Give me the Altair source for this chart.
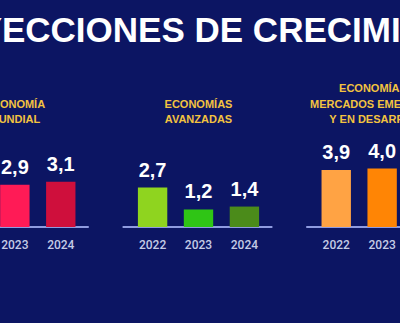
import altair as alt
import pandas as pd

title_text = "PROYECCIONES DE CRECIMIENTO"
group_keys = ["MUNDIAL", "AVANZADAS", "EMERGENTES"]
group_titles = [
    "ECONOMÍA\nMUNDIAL",
    "ECONOMÍAS\nAVANZADAS",
    "ECONOMÍAS DE\nMERCADOS EMERGENTES\nY EN DESARROLLO",
]
years = ["2022", "2023", "2024"]

bar_groups = ["MUNDIAL", "MUNDIAL", "AVANZADAS", "AVANZADAS", "AVANZADAS", "EMERGENTES", "EMERGENTES"]
bar_years = ["2023", "2024", "2022", "2023", "2024", "2022", "2023"]
bar_values = [2.9, 3.1, 2.7, 1.2, 1.4, 3.9, 4.0]
bar_labels = ["2,9", "3,1", "2,7", "1,2", "1,4", "3,9", "4,0"]
bar_colors = ["#ff1b56", "#cf0f3c", "#8fd41f", "#2fc515", "#4b8b1a", "#ffa344", "#ff8505"]

# slot layout: three years per group, one empty slot between groups
slots = []
for i, g in enumerate(group_keys):
    if i:
        slots.append(f"gap{i}")
    slots += [f"{g}-{y}" for y in years]

bars = pd.DataFrame({"group": bar_groups, "year": bar_years,
                     "value": bar_values, "label": bar_labels})
bars["slot"] = bars["group"] + "-" + bars["year"]

groups_df = pd.DataFrame({
    "group": group_keys,
    "mid": [f"{g}-{years[1]}" for g in group_keys],
    "first": [f"{g}-{years[0]}" for g in group_keys],
    "last": [f"{g}-{years[-1]}" for g in group_keys],
})

# one row per title line, counted from the bottom line up
line_rows = []
for g, t in zip(group_keys, group_titles):
    parts = t.split("\n")
    for k, p in enumerate(parts):
        line_rows.append({"mid": f"{g}-{years[1]}", "line": p, "row": len(parts) - 1 - k})
lines_df = pd.DataFrame(line_rows)

xs = alt.Scale(type="band", domain=slots, range=[-54, 451],
               paddingInner=0.36, paddingOuter=0.18)
ys = alt.Scale(domain=[0, 5], range=[227, 154], nice=False, zero=False)

base_bars = alt.Chart(bars)

bar_layer = base_bars.mark_bar(clip=True).encode(
    x=alt.X("slot:N", scale=xs, axis=None),
    y=alt.Y("value:Q", scale=ys, axis=None),
    color=alt.Color("slot:N", scale=alt.Scale(domain=list(bars["slot"]), range=bar_colors), legend=None),
)

value_layer = base_bars.mark_text(
    dy=-17, baseline="middle", align="center", fontSize=20, fontWeight="bold",
    font="Liberation Sans", color="#ffffff", clip=True
).encode(
    x=alt.X("slot:N", scale=xs, axis=None),
    y=alt.Y("value:Q", scale=ys, axis=None),
    text="label:N",
)

year_layer = base_bars.mark_text(
    baseline="middle", align="center", fontSize=12, fontWeight=500,
    font="Roboto", color="#c4cbe6", clip=True
).encode(
    x=alt.X("slot:N", scale=xs, axis=None),
    y=alt.value(245),
    text="year:N",
)

rule_layer = alt.Chart(groups_df).mark_rule(
    strokeWidth=1.8, color="#8f9be0", xOffset=-30, x2Offset=28, clip=True
).encode(
    x=alt.X("first:N", scale=xs, axis=None),
    x2="last:N",
    y=alt.YDatum(0, scale=ys, axis=None),
)

gtitle_layer = alt.Chart(lines_df).mark_text(
    baseline="middle", align="center",
    fontSize=11, fontWeight="bold", font="Liberation Sans", color="#f3c340", clip=True
).encode(
    x=alt.X("mid:N", scale=xs, axis=None),
    y=alt.Y("row:O", scale=alt.Scale(type="point", domain=[2, 1, 0], range=[89, 120], padding=0), axis=None),
    text="line:N",
)

title_layer = alt.Chart(pd.DataFrame({"t": [title_text]})).mark_text(
    align="center", baseline="alphabetic", fontSize=35, fontWeight="bold",
    font="Liberation Sans", color="#ffffff", clip=True
).encode(
    x=alt.value(200),
    y=alt.value(42),
    text="t:N",
)

chart = alt.layer(
    rule_layer, bar_layer, value_layer, year_layer, gtitle_layer, title_layer
).resolve_scale(y="independent").properties(
    width=400, height=323,
    autosize=alt.AutoSizeParams(type="none"),
    padding=0,
    background="#0c1563",
).configure_view(stroke=None)

chart.save("out.html", embed_options={"renderer": "svg", "actions": False})
